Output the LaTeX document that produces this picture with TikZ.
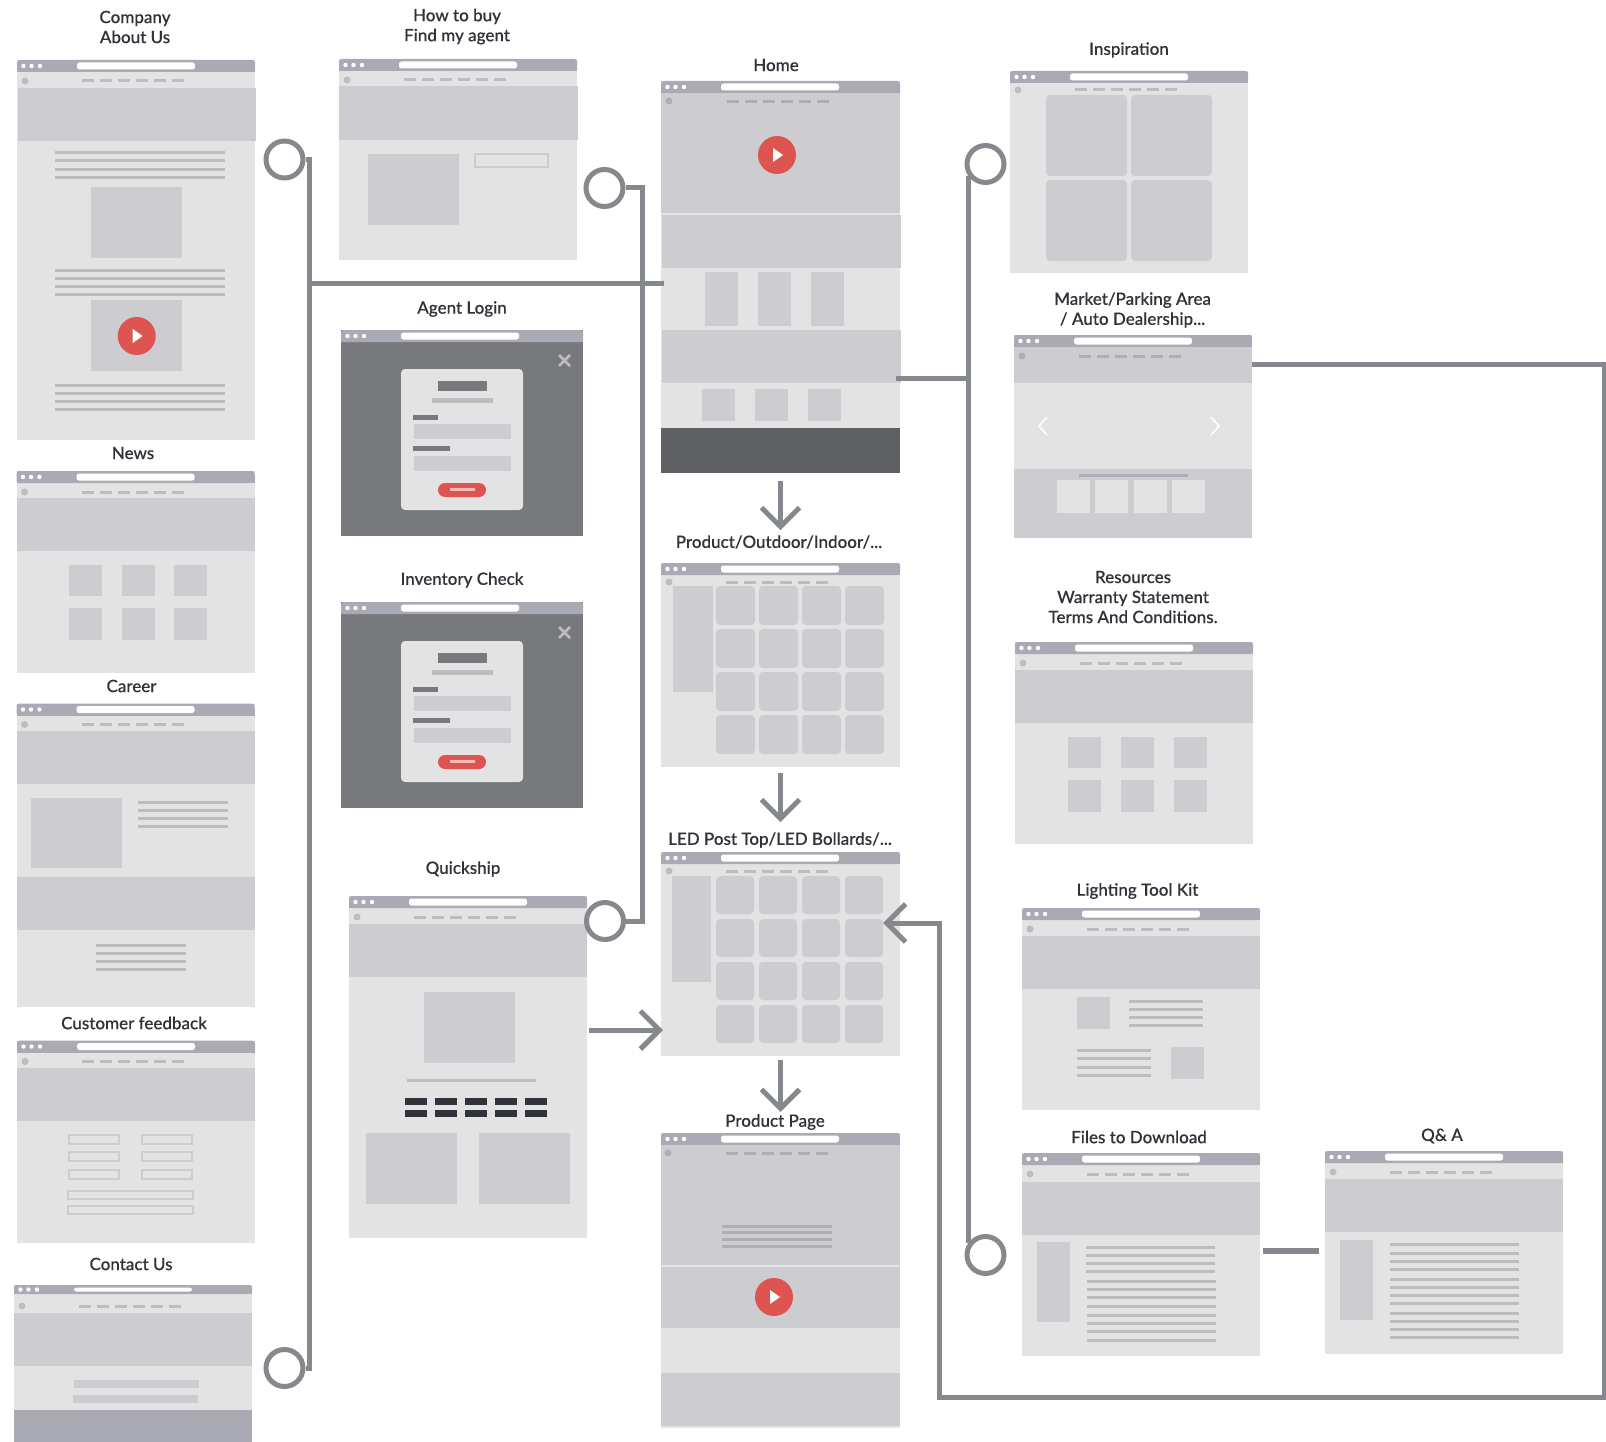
\documentclass[tikz,border=0pt]{standalone}
\usepackage{fontspec}
\setmainfont{Lato}
\newfontfamily\titlefont[FakeBold=0.25]{Lato Medium}
\usetikzlibrary{arrows.meta}

\definecolor{wfbar}{HTML}{AAAAB4}
\definecolor{wflight}{HTML}{E3E3E4}
\definecolor{wfmid}{HTML}{CDCDD1}
\definecolor{wfline}{HTML}{BDBDC0}
\definecolor{wfnav}{HTML}{AEAEB4}
\definecolor{wfshade}{HTML}{77797D}
\definecolor{wffoot}{HTML}{5F6064}
\definecolor{wfred}{HTML}{DD5450}
\definecolor{wflink}{HTML}{85888C}
\definecolor{wfink}{HTML}{30343A}

\tikzset{
  winframe/.style={anchor=north west, inner sep=0pt, outer sep=0pt},
  pagetitle/.style={inner sep=0pt, align=center, text=wfink, font=\titlefont\fontsize{17}{20}\selectfont},
  linkring/.style={circle, draw=wflink, fill=white, line width=5pt, minimum size=37pt, inner sep=0pt},
  linkline/.style={draw=wflink, line width=5pt},
  flowarrow/.style={draw=wflink, line width=5pt, -{Straight Barb[length=19pt,width=38pt,line width=5pt]}},
  band/.style={fill=wfmid},
  tile/.style={fill=wfmid, rounded corners=4pt},
  outlined/.style={draw=wfmid, line width=1.5pt}
}

\def\barh{12}
\def\navshift{0}
% width (optional), name, x, y, height, body colour, nav colour
\newcommand{\browser}[7][238]{
  \node[winframe, fill=#6, minimum width=#1pt, minimum height=#5pt] (#2) at (#3,#4) {};
  \fill[wfbar, rounded corners=2.5pt] (#3,#4) rectangle ({#3+#1},{#4+\barh});
  \fill[wfbar] (#3,{#4+5}) rectangle ({#3+#1},{#4+\barh});
  \fill[white, rounded corners=2.5pt] ({#3+60},{#4+2.5}) rectangle ({#3+178},{#4+\barh-2.5});
  \foreach \dotx in {6.5,14.5,23}
    \fill[white] ({#3+\dotx},{#4+\barh/2}) circle (2.2);
  \ifx#7n\else
    \fill[#7] ({#3+8},{#4+21+\navshift}) circle (3.5);
    \foreach \navi in {0,...,5}
      \fill[#7] ({#3+65+18*\navi},{#4+19.5+\navshift}) rectangle ({#3+77+18*\navi},{#4+22.5+\navshift});
  \fi
}
% x1, x2, list of y
\newcommand{\textlines}[3]{
  \foreach \liney in {#3}
    \fill[wfline] (#1,{\liney-1.5}) rectangle (#2,{\liney+1.5});
}
\newcommand{\playbtn}[2]{
  \fill[wfred] (#1,#2) circle (19);
  \fill[white] ({#1-4},{#2-7}) -- ({#1+6},#2) -- ({#1-4},{#2+7}) -- cycle;
}
\newcommand{\logincard}[1]{
  \begin{scope}[shift={(0,#1)}]
    \draw[wfline, line width=2.5pt] (559,355) -- (570,366) (570,355) -- (559,366);
    \fill[wflight, rounded corners=4pt] (401,369) rectangle (523,510);
    \fill[wfshade] (438,381) rectangle (487,391);
    \fill[wfline] (432,398) rectangle (493,403);
    \fill[wfshade] (413,415) rectangle (438,420);
    \fill[wfmid] (414,424) rectangle (511,439);
    \fill[wfshade] (413,446) rectangle (450,451);
    \fill[wfmid] (414,456) rectangle (511,471);
    \fill[wfred, rounded corners=7pt] (438,483) rectangle (486,497);
    \fill[wfred!40!white] (450,488) rectangle (475,491);
  \end{scope}
}

\begin{document}
\begin{tikzpicture}[x=1pt, y=-1pt]
  \useasboundingbox (0,0) rectangle (1606,1442);

  % left column
  \browser{company}{17}{60}{380}{wflight}{wfline}
  \fill[band] (18,88) rectangle (256,141);
  \textlines{55}{225}{153,161,170,178}
  \fill[band] (91,187) rectangle (182,258);
  \textlines{55}{225}{270,278,286,294}
  \fill[band] (91,300) rectangle (182,371);
  \playbtn{136.7}{336}
  \textlines{55}{225}{385,393,401,409}

  \browser{news}{16.5}{471}{202}{wflight}{wfline}
  \fill[band] (16.5,498) rectangle (254.5,551);
  \foreach \tilex in {69,122,174} {
    \fill[band] (\tilex,565) rectangle ({\tilex+33},596);
    \fill[band] (\tilex,608) rectangle ({\tilex+33},640);
  }

  \browser{career}{16.5}{703.5}{303.5}{wflight}{wfline}
  \fill[band] (16.5,731) rectangle (254.5,784);
  \fill[band] (31,798) rectangle (122,868);
  \textlines{138}{228}{802,810,818,826}
  \fill[band] (16.5,877) rectangle (254.5,930);
  \textlines{96}{186}{945,953,961,969}

  \browser{feedback}{17}{1040.5}{202.5}{wflight}{wfline}
  \fill[band] (17,1068) rectangle (255,1121);
  \foreach \formy in {1135,1152,1170} {
    \draw[outlined] (69,\formy) rectangle (119,{\formy+9});
    \draw[outlined] (142,\formy) rectangle (192,{\formy+9});
  }
  \draw[outlined] (68,1191) rectangle (193,1199);
  \draw[outlined] (68,1206) rectangle (193,1214);

  \def\barh{9}
  \browser{contact}{14}{1285}{157}{wflight}{wfline}
  \def\barh{12}
  \fill[band] (14,1313) rectangle (252,1366);
  \fill[band] (74,1380) rectangle (199,1388);
  \fill[band] (73,1395) rectangle (198,1403);
  \fill[wfbar] (14,1410) rectangle (252,1442);

  % second column
  \browser{howtobuy}{339}{59}{201}{wflight}{wfline}
  \fill[band] (339,86) rectangle (578,140);
  \fill[band] (368,154) rectangle (459,225);
  \draw[outlined] (475,154) rectangle (548,167);

  \browser[242]{agentlogin}{341}{330}{206}{wfshade}{n}
  \logincard{0}
  \browser[242]{inventory}{341}{602}{206}{wfshade}{n}
  \logincard{272}

  \browser{quickship}{349}{896}{342}{wflight}{wfline}
  \fill[band] (349,924) rectangle (587,977);
  \fill[band] (424,992) rectangle (515,1063);
  \textlines{407}{536}{1080.5}
  \foreach \keyx in {405,435,465,495,525} {
    \fill[wfink] (\keyx,1098) rectangle ({\keyx+22},1105);
    \fill[wfink] (\keyx,1110) rectangle ({\keyx+22},1117);
  }
  \fill[band] (366,1133) rectangle (457,1204);
  \fill[band] (479,1133) rectangle (570,1204);

  % third column
  \browser[239]{home}{661}{81}{392}{wflight}{wfnav}
  \fill[band] (661,93) rectangle (900,213);
  \fill[wfnav] (669,101) circle (3.5);
  \foreach \navi in {0,...,5}
    \fill[wfnav] ({727+18*\navi},100) rectangle ({739+18*\navi},103);
  \playbtn{777}{155}
  \fill[band] (662,215) rectangle (901,268);
  \foreach \tilex in {705,758,811}
    \fill[band] (\tilex,272) rectangle ({\tilex+33},326);
  \fill[band] (662,330) rectangle (901,383);
  \foreach \tilex in {702,755,808}
    \fill[band] (\tilex,389) rectangle ({\tilex+33},421);
  \fill[wffoot] (661,428) rectangle (900,473);

  \def\navshift{-2}
  \browser[239]{product}{661}{563}{204}{wflight}{wfline}
  \fill[band] (673,586) rectangle (713,692);
  \foreach \tilex in {716,759,802,845}
    \foreach \tiley in {586,629,672,715}
      \fill[tile] (\tilex,\tiley) rectangle ({\tilex+39},{\tiley+39});

  \browser[239]{led}{661}{852}{204}{wflight}{wfline}
  \fill[band] (672,876) rectangle (711,982);
  \foreach \tilex in {716,759,802,845}
    \foreach \tiley in {876,919,962,1005}
      \fill[tile] (\tilex,\tiley) rectangle ({\tilex+38},{\tiley+38});
  \def\navshift{0}

  \browser[239]{page}{661}{1133}{295}{wflight}{wfnav}
  \fill[band] (661,1145) rectangle (900,1265);
  \fill[wfnav] (668,1153) circle (3.5);
  \foreach \navi in {0,...,5}
    \fill[wfnav] ({726+18*\navi},1151.5) rectangle ({738+18*\navi},1154.5);
  \foreach \liney in {1226,1232,1239,1246}
    \fill[wfnav] (722,{\liney-1.5}) rectangle (832,{\liney+1.5});
  \fill[band] (661,1266.5) rectangle (900,1328);
  \playbtn{774}{1297}
  \fill[band] (661,1373) rectangle (900,1426);

  % fourth column
  \def\navshift{-2}
  \browser{inspiration}{1010}{71}{202}{wflight}{wfline}
  \def\navshift{0}
  \foreach \tilex in {1046,1131}
    \foreach \tiley in {95,180}
      \fill[tile] (\tilex,\tiley) rectangle ({\tilex+81},{\tiley+81});

  \browser{market}{1014}{335}{203}{wfmid}{wfnav}
  \fill[wflight] (1014,383) rectangle (1252,469);
  \draw[white, line width=1.5pt] (1047,417) -- (1039,426) -- (1047,435);
  \draw[white, line width=1.5pt] (1211,417) -- (1219,426) -- (1211,435);
  \fill[wfnav] (1079,474) rectangle (1188,477);
  \foreach \tilex in {1057,1095,1134,1172}
    \fill[wflight] (\tilex,480) rectangle ({\tilex+33},513);

  \browser{resources}{1015}{642}{202}{wflight}{wfline}
  \fill[band] (1015,670) rectangle (1253,723);
  \foreach \tilex in {1068,1121,1174} {
    \fill[band] (\tilex,737) rectangle ({\tilex+33},768);
    \fill[band] (\tilex,780) rectangle ({\tilex+33},812);
  }

  \browser{toolkit}{1022}{908}{202}{wflight}{wfline}
  \fill[band] (1022,936) rectangle (1260,989);
  \fill[band] (1077,997) rectangle (1110,1029);
  \textlines{1129}{1203}{1001,1009,1017,1025.5}
  \textlines{1077}{1151}{1050,1058,1067,1075}
  \fill[band] (1171,1047) rectangle (1204,1079);

  \browser{files}{1022}{1153}{203}{wflight}{wfline}
  \fill[band] (1022,1182) rectangle (1260,1235);
  \fill[band] (1037,1242) rectangle (1070,1322);
  \textlines{1086}{1215}{1247,1255,1263,1271}
  \textlines{1087}{1216}{1281,1289,1297,1306,1315,1323,1331,1340}

  \browser{qanda}{1325}{1151}{203}{wflight}{wfline}
  \fill[band] (1325,1179) rectangle (1563,1232);
  \fill[band] (1340,1240) rectangle (1373,1320);
  \textlines{1390}{1519}{1244,1253,1261,1269,1279,1287,1295,1303,1313,1321,1329,1337}

  % titles
  \node[pagetitle] (lblcompany) at (135,27) {Company\\About Us};
  \node[pagetitle] (lblnews) at (133,453) {News};
  \node[pagetitle] (lblcareer) at (131.5,686) {Career};
  \node[pagetitle] (lblfeedback) at (134,1023) {Customer feedback};
  \node[pagetitle] (lblcontact) at (131,1264) {Contact Us};
  \node[pagetitle] (lblhowtobuy) at (457,26.5) {How to buy\\Find my agent};
  \node[pagetitle] (lblagent) at (462,309) {Agent Login};
  \node[pagetitle] (lblinventory) at (462,580) {Inventory Check};
  \node[pagetitle] (lblquickship) at (463,869) {Quickship};
  \node[pagetitle] (lblhome) at (776,65) {Home};
  \node[pagetitle] (lblproduct) at (779,542) {Product/Outdoor/Indoor/...};
  \node[pagetitle] (lblled) at (780,840) {LED Post Top/LED Bollards/...};
  \node[pagetitle] (lblpage) at (775,1122) {Product Page};
  \node[pagetitle] (lblinspiration) at (1129,50) {Inspiration};
  \node[pagetitle] (lblmarket) at (1132.5,310) {Market/Parking Area\\/ Auto Dealership...};
  \node[pagetitle] (lblresources) at (1133,597) {Resources\\Warranty Statement\\Terms And Conditions.};
  \node[pagetitle] (lbltoolkit) at (1137.5,891) {Lighting Tool Kit};
  \node[pagetitle] (lblfiles) at (1139,1137) {Files to Download};
  \node[pagetitle] (lblqanda) at (1442,1136) {Q\& A};

  % rings
  \node[linkring] (ringcompany) at (284.5,159.5) {};
  \node[linkring] (ringcontact) at (284.5,1368) {};
  \node[linkring] (ringbuy) at (604.5,188) {};
  \node[linkring] (ringquick) at (605,921) {};
  \node[linkring] (ringinspire) at (985.5,164) {};
  \node[linkring] (ringfiles) at (985.5,1255) {};

  % connectors
  \coordinate (bustop) at (309,159.5);
  \coordinate (busbottom) at (309,1368);
  \coordinate (busjoin) at (309,283);
  \coordinate (homeleft) at (664,283);
  \draw[linkline] (ringcompany.east) -- (bustop) -- (busbottom) -- (ringcontact.east);
  \draw[linkline] (busjoin) -- (homeleft);

  \coordinate (midtop) at (642,188);
  \coordinate (midbottom) at (642,921);
  \draw[linkline] (ringbuy.east) -- (midtop) -- (midbottom) -- (ringquick.east);

  \coordinate (righttop) at (968,176);
  \coordinate (rightbottom) at (968,1243);
  \coordinate (rightjoin) at (968,378);
  \coordinate (homeright) at (896,378);
  \draw[linkline] (righttop) -- (rightbottom);
  \draw[linkline] (homeright) -- (rightjoin);

  \coordinate (qsout) at (589,1030);
  \coordinate (ledin) at (663,1030);
  \draw[flowarrow] (qsout) -- (ledin);
  \draw[flowarrow] ([yshift=-8pt]home.south) -- ([yshift=5pt]home.south |- lblproduct.north);
  \draw[flowarrow] ([yshift=-6pt]product.south) -- ([yshift=10pt]product.south |- lblled.north);
  \draw[flowarrow] ([yshift=-4pt]led.south) -- ([yshift=2pt]led.south |- lblpage.north);

  \coordinate (marketout) at (1252,364);
  \coordinate (edgetop) at (1604,364);
  \coordinate (edgebottom) at (1604,1397);
  \coordinate (routeleft) at (939,1397);
  \coordinate (routeup) at (939,923);
  \coordinate (ledright) at (883,923);
  \draw[flowarrow] (marketout) -- (edgetop) -- (edgebottom) -- (routeleft) -- (routeup) -- (ledright);

  \coordinate (filesout) at (1263,1251);
  \coordinate (qandain) at (1319,1251);
  \draw[linkline, line width=6pt] (filesout) -- (qandain);
\end{tikzpicture}
\end{document}
